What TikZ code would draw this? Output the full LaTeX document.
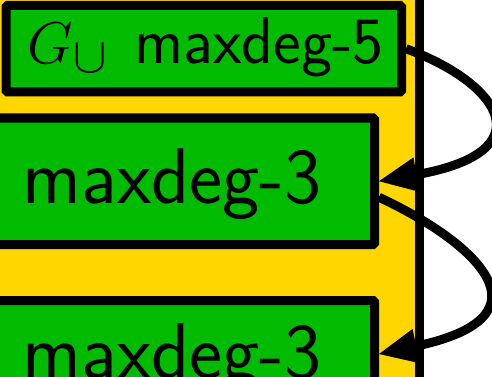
\RequirePackage{fix-cm}
\documentclass[tikz,border=0pt]{standalone}
\usetikzlibrary{arrows.meta}
\DeclareMathSizes{59}{59}{50}{40}
\definecolor{boxgreen}{RGB}{0,187,0}
\definecolor{panelyellow}{RGB}{255,214,0}
\begin{document}
\begin{tikzpicture}[x=1pt,y=1pt,
  box/.style={draw=black, line width=9pt, fill=boxgreen, rounded corners=1.5pt, inner sep=0pt,
    font=\fontsize{79}{88}\selectfont\sffamily, text depth=0pt},
  arr/.style={line width=9pt, -{Triangle[length=38pt,width=35pt,line width=0pt]}}]
\useasboundingbox (0,0) rectangle (492,-377);
\draw[line width=9pt, fill=panelyellow] (-40,4) rectangle (419.5,-460);
\node[box, minimum width=395.5pt, minimum height=86.5pt, text height=30.5pt,
  font=\fontsize{66}{72}\selectfont\sffamily] (b1)
  at (203.75,-48.75) {\hspace*{4pt}{\fontsize{59}{63}\selectfont$G_\cup$}\hspace{27pt}maxdeg-5};
\node[box, minimum width=405pt, minimum height=126.5pt, text height=43.5pt] (b2) at (172,-181.25) {maxdeg-3};
\node[box, minimum width=405pt, minimum height=107pt, text height=48pt] (b3) at (172,-354) {maxdeg-3};
\draw[arr] (b1.east) to[out=-20,in=10,out looseness=1.9,in looseness=3.2] (b2.east);
\draw[arr] ([yshift=-16pt]b2.east) to[out=-25,in=12,out looseness=1.7,in looseness=3.0] (b3.east);
\end{tikzpicture}
\end{document}
